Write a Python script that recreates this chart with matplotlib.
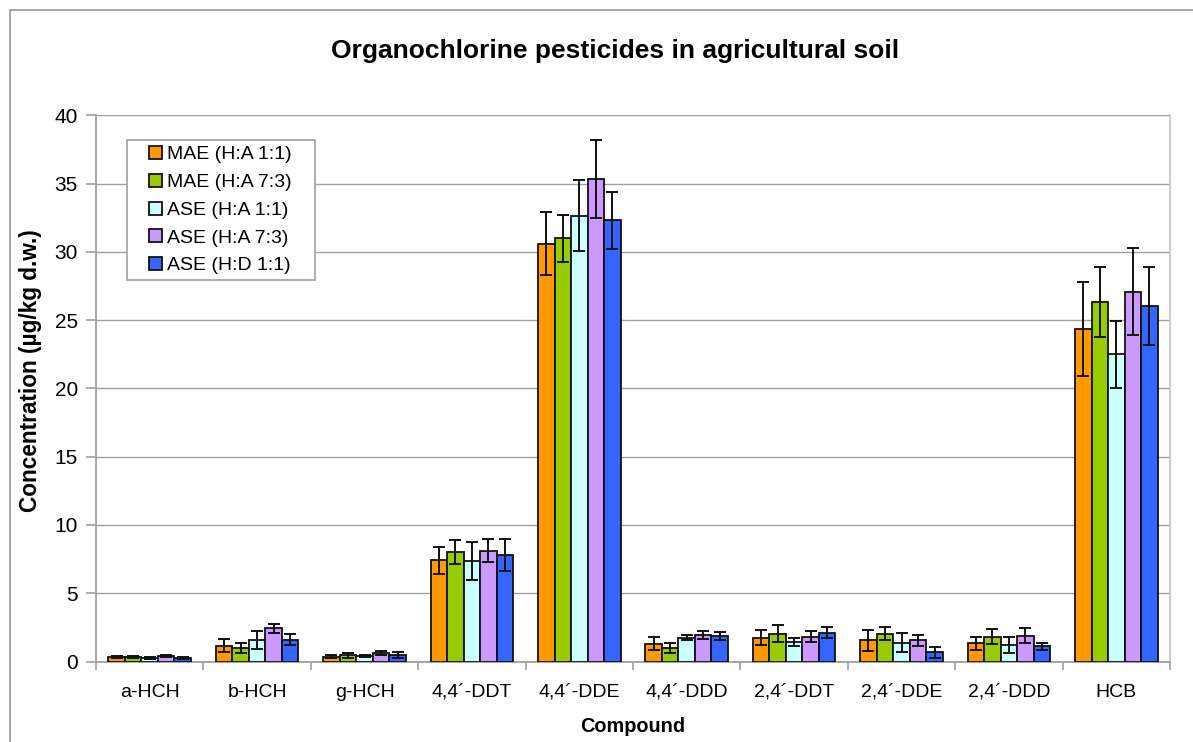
import numpy as np
import matplotlib
matplotlib.use("Agg")
from matplotlib import pyplot as plt
from matplotlib.patches import Rectangle
from matplotlib.legend_handler import HandlerPatch

plt.rcParams['font.family'] = ['Liberation Sans', 'DejaVu Sans']

compounds = ['a-HCH', 'b-HCH', 'g-HCH', '4,4´-DDT', '4,4´-DDE',
             '4,4´-DDD', '2,4´-DDT', '2,4´-DDE', '2,4´-DDD', 'HCB']

series_names = ['MAE (H:A 1:1)', 'MAE (H:A 7:3)', 'ASE (H:A 1:1)',
                'ASE (H:A 7:3)', 'ASE (H:D 1:1)']

mae_ha11 = [0.30, 1.17, 0.36, 7.40, 30.60, 1.30, 1.74, 1.56, 1.32, 24.35]
mae_ha11_err = [0.08, 0.45, 0.08, 1.01, 2.33, 0.46, 0.56, 0.77, 0.48, 3.42]

mae_ha73 = [0.33, 0.97, 0.46, 8.03, 31.00, 0.98, 2.05, 2.05, 1.83, 26.30]
mae_ha73_err = [0.08, 0.38, 0.18, 0.88, 1.72, 0.34, 0.60, 0.48, 0.54, 2.56]

ase_ha11 = [0.27, 1.59, 0.42, 7.35, 32.66, 1.74, 1.42, 1.37, 1.20, 22.50]
ase_ha11_err = [0.06, 0.67, 0.08, 1.39, 2.60, 0.20, 0.30, 0.71, 0.57, 2.46]

ase_ha73 = [0.38, 2.44, 0.60, 8.10, 35.35, 1.95, 1.80, 1.54, 1.90, 27.08]
ase_ha73_err = [0.08, 0.34, 0.15, 0.84, 2.85, 0.30, 0.40, 0.43, 0.55, 3.20]

ase_hd11 = [0.25, 1.61, 0.46, 7.80, 32.30, 1.88, 2.12, 0.66, 1.12, 26.03]
ase_hd11_err = [0.06, 0.39, 0.22, 1.20, 2.10, 0.27, 0.39, 0.37, 0.25, 2.85]

values = [mae_ha11, mae_ha73, ase_ha11, ase_ha73, ase_hd11]
errors = [mae_ha11_err, mae_ha73_err, ase_ha11_err, ase_ha73_err, ase_hd11_err]
colors = ['#FF9900', '#99CC00', '#CCFFFF', '#CC99FF', '#3366FF']

W, H = 1193, 742
fig = plt.figure(figsize=(W / 100, H / 100), dpi=100)
ax = fig.add_axes([96 / W, 1 - 661.5 / H, (1170 - 96) / W, (661.5 - 115.3) / H])

# outer chart border
fig.patches.append(Rectangle((10 / W, -0.1), 1.2, 1 - 10 / H + 0.1,
                             transform=fig.transFigure, fill=False,
                             edgecolor='#a0a0a0', linewidth=1.3))

x = np.arange(len(compounds))
bw = 1 / 6.5
for i in range(5):
    ax.bar(x + (i - 2) * bw, values[i], bw, color=colors[i],
           edgecolor='#111111', linewidth=1.3,
           yerr=errors[i], capsize=4, zorder=3,
           error_kw=dict(elinewidth=1.4, capthick=1.4, ecolor='#111111', zorder=4))

ax.set_xlim(-0.5, len(compounds) - 0.5)
ax.set_ylim(0, 40)
ax.set_yticks(np.arange(0, 41, 5))
ax.yaxis.grid(True, color='#a0a0a0', linewidth=1.0, zorder=0)
ax.set_axisbelow(True)

ax.set_xticks(x)
ax.set_xticklabels(compounds, fontsize=14)
ax.set_xticks(np.arange(-0.5, len(compounds)), minor=True)
ax.tick_params(axis='x', which='major', length=0, pad=16)
ax.tick_params(axis='x', which='minor', length=6, color='#a0a0a0', width=1.2)
ax.tick_params(axis='y', length=7, color='#a0a0a0', width=1.2, pad=6, labelsize=15)

ax.spines['top'].set_visible(False)
ax.spines['left'].set_color('#a0a0a0')
ax.spines['bottom'].set_color('#a0a0a0')
ax.spines['right'].set_color('#c8c8c8')
for side in ['left', 'bottom', 'right']:
    ax.spines[side].set_linewidth(1.3)

ax.set_xlabel('Compound', fontsize=14.3, fontweight='bold')
ax.xaxis.set_label_coords(0.5, -0.102)
ax.set_ylabel('Concentration (µg/kg d.w.)', fontsize=16.3, fontweight='bold')
ax.yaxis.set_label_coords(-0.05, 0.533)

fig.text(615 / W, 1 - 51 / H, 'Organochlorine pesticides in agricultural soil',
         ha='center', va='center', fontsize=19, fontweight='bold')


def square_patch(legend, orig_handle, xdescent, ydescent, width, height, fontsize):
    s = 13 * 72 / 100
    return Rectangle((width - s - xdescent, (height - s) / 2 - ydescent), s, s)


handles = [Rectangle((0, 0), 1, 1, facecolor=c, edgecolor='#111111', linewidth=1.3)
           for c in colors]

ax_w = 1170 - 96
ax_h = 661.5 - 115.3
leg = ax.legend(handles, series_names, loc='upper left', mode='expand',
                bbox_to_anchor=((127 - 96) / ax_w, 0, (315 - 127) / ax_w, (661.5 - 140) / ax_h),
                borderaxespad=0, fontsize=14, fancybox=False, framealpha=1,
                edgecolor='#a0a0a0', borderpad=0.3, labelspacing=0.52,
                handlelength=1.5, handleheight=0.7, handletextpad=0.25,
                handler_map={Rectangle: HandlerPatch(patch_func=square_patch)})
leg.get_frame().set_linewidth(1.2)

fig.savefig('out.png', dpi=100)
